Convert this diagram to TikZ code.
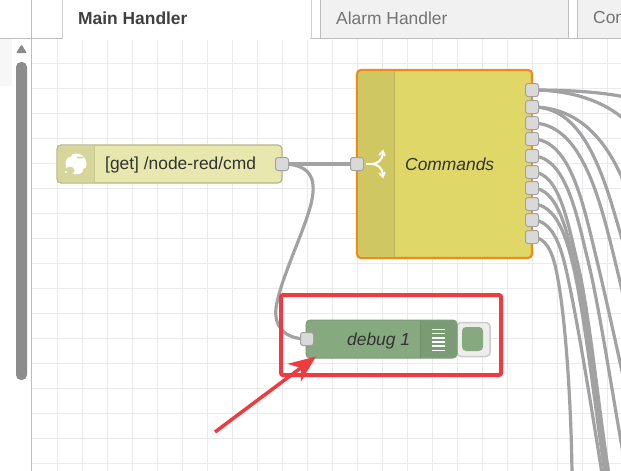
\documentclass[tikz,border=0pt]{standalone}
\usepackage{fontspec}
\setmainfont{Liberation Sans}
\usetikzlibrary{arrows.meta,backgrounds}
\definecolor{gridgrey}{HTML}{E9E9EE}
\definecolor{tabgrey}{HTML}{F1F1F1}
\definecolor{tabline}{HTML}{BDBDBD}
\definecolor{wiregrey}{HTML}{A2A2A2}
\definecolor{portgrey}{HTML}{D9D9D9}
\definecolor{getbody}{HTML}{E7E7AE}
\definecolor{getband}{HTML}{D6D69C}
\definecolor{cmdbody}{HTML}{DFD767}
\definecolor{cmdband}{HTML}{CFC862}
\definecolor{cmdline}{HTML}{F08A1C}
\definecolor{dbgbody}{HTML}{87A980}
\definecolor{dbgband}{HTML}{7A9B73}
\definecolor{markred}{HTML}{EE3B3F}
\tikzset{
	flowbox/.style={draw=#1, rounded corners=4pt, inner sep=0pt, outer sep=0pt},
	portbox/.style={draw=wiregrey, fill=portgrey, line width=1pt, rounded corners=2.5pt, minimum size=13pt, inner sep=0pt, outer sep=0pt},
	tabbox/.style={draw=tabline, fill=tabgrey, line width=1pt, minimum height=39pt, inner sep=0pt, outer sep=0pt},
	tabtext/.style={right, inner sep=0pt, font=\fontsize{17.4}{20}\selectfont},
	flowtext/.style={right, inner sep=0pt, text=black!80, font=\fontsize{17.4}{20}\selectfont},
	gridline/.style={draw=gridgrey, line width=1pt},
	wire/.style={draw=wiregrey, line width=3.2pt},
	iconline/.style={draw=white, line width=2pt}
}
\begin{document}
\begin{tikzpicture}[x=1pt,y=-1pt]
	\useasboundingbox (0,0) rectangle (621,471);
	\clip (0,0) rectangle (621,471);
	% canvas grid
	\begin{pgfonlayer}{background}
	\fill[white] (0,0) rectangle (621,471);
	\foreach \x in {57,82,...,607} \draw[gridline] (\x,38)--(\x,471);
	\foreach \y in {63,88,...,463} \draw[gridline] (32,\y)--(621,\y);
	\end{pgfonlayer}
	% tabs
	\fill[tabgrey!60] (0,38) rectangle (12,86);
	\draw[tabline, line width=1pt] (31.5,0)--(31.5,471);
	\draw[tabline, line width=1pt] (0,38)--(621,38);
	\node[tabbox, minimum width=249pt, fill=white, draw=tabline!70, at={(186.5,19)}] (maintab) {};
	\fill[white] (63,36) rectangle (310,40);
	\node[tabbox, minimum width=248pt, at={(444.5,19)}] (alarmtab) {};
	\node[tabbox, minimum width=100pt, at={(627,19)}] (thirdtab) {};
	\node[tabtext, at={(78,18)}, text=black!75, font=\fontsize{17.4}{20}\selectfont\bfseries] (mainlabel) {Main Handler};
	\node[tabtext, at={(336,18)}, text=black!55] (alarmlabel) {Alarm Handler};
	\node[tabtext, at={(593,18)}, text=black!55] (thirdlabel) {Con};
	% scrollbar
	\fill[black!45, rounded corners=1pt] (21.5,44.5)--(27,53)--(16,53)--cycle;
	\fill[black!45, rounded corners=5pt] (16,62) rectangle (27,380);
	% get node
	\node[flowbox=getband!85!black, fill=getbody, line width=1.2pt, minimum width=225pt, minimum height=38pt, at={(169.5,164)}] (get) {};
	\fill[getband] (94,145.7) [rounded corners=4pt] -- (57.7,145.7) -- (57.7,182.3) [sharp corners] -- (94,182.3) -- cycle;
	\draw[getband!92!black] (94,146)--(94,182);
	\fill[white] (76,164) circle (10.5pt);
	\fill[getband] (68,155) ellipse (4pt and 2.5pt);
	\fill[getband] (70,170.5) ellipse (4.5pt and 4pt);
	\fill[getband] (80,157.5) ellipse (3.5pt and 1pt);
	\fill[getband] (85,172) ellipse (2.5pt and 4pt);
	\fill[white] (66,172) circle (1.2pt);
	\node[flowtext, at={(105,165)}] (getlabel) {[get] /node-red/cmd};
	\node[portbox, at={(282,164)}] (getout) {};
	% switch node
	\node[flowbox=cmdline, fill=cmdbody, line width=2.2pt, minimum width=175pt, minimum height=188pt, at={(444.5,164)}] (commands) {};
	\fill[cmdband] (394,71.1) [rounded corners=4pt] -- (358.1,71.1) -- (358.1,256.9) [sharp corners] -- (394,256.9) -- cycle;
	\draw[cmdband!92!black] (394,71)--(394,257);
	\draw[iconline] (366,164)--(372,164);
	\draw[iconline] (372,164) .. controls (377,164) and (383,160) .. (383,153);
	\draw[iconline] (372,164) .. controls (377,164) and (383,168) .. (383,175);
	\draw[iconline, line width=1.6pt] (379,155)--(383,151)--(385,156);
	\draw[iconline, line width=1.6pt] (379,173)--(383,177)--(385,172);
	\node[flowtext, at={(405,164)}, font=\fontsize{17.4}{20}\selectfont\itshape] (cmdlabel) {Commands};
	\node[portbox, at={(357,164)}] (cmdin) {};
	\foreach \n/\y in {1/90,2/107,3/123,4/139,5/156,6/172,7/188,8/204,9/220,10/237}
		\node[portbox, at={(532,\y)}] (out\n) {};
	% debug node
	\node[draw=black!20, fill=black!7, line width=1.5pt, rounded corners=4pt, minimum width=33pt, minimum height=34pt, inner sep=0pt, at={(473.5,339.5)}] (dbgbutton) {};
	\node[fill=dbgbody, rounded corners=4pt, minimum width=21pt, minimum height=24pt, inner sep=0pt, at={(472.5,339)}] (dbgflag) {};
	\node[flowbox=dbgband, fill=dbgbody, line width=1pt, minimum width=151pt, minimum height=38pt, at={(381.5,339)}] (dbg) {};
	\fill[dbgband] (420,320.5) [rounded corners=4pt] -- (456.5,320.5) -- (456.5,357.5) [sharp corners] -- (420,357.5) -- cycle;
	\draw[dbgband!92!black] (420,320.5)--(420,357.5);
	\foreach \y in {329.3,333.5,337.7,341.9,346.1,350.3} \draw[draw=white, line width=1.6pt] (432,\y)--(445,\y);
	\node[flowtext, at={(347,340.5)}, font=\fontsize{17.4}{20}\selectfont\itshape] (dbglabel) {debug 1};
	\node[portbox, at={(307,339)}] (dbgin) {};
	% wires
	\begin{pgfonlayer}{background}
	\draw[wire] (getout.center)--(cmdin.center);
	\draw[wire] (getout.center) .. controls (308,164) and (318,176) .. (311,204) .. controls (304,232) and (280,280) .. (276,308) .. controls (274,326) and (284,339) .. (dbgin.center);
	\draw[wire] (out1.center) .. controls (570,90) and (600,92) .. (625,97);
	\draw[wire] (out1.center) .. controls (565,90) and (600,98) .. (625,120);
	\draw[wire] (out2.center) .. controls (575,107) and (605,135) .. (625,185);
	\draw[wire] (out2.center) .. controls (570,107) and (592,140) .. (612,205) -- (640,300);
	\foreach \n/\ya/\xm/\xe/\xc in {3/123/616/665/655,4/139/598/645/635,5/156/589/628/618,6/172/578/610/601,7/188/575/608/599,8/204/573/606/598,9/220/565/603/595,10/237/555/572/572}
		\draw[wire] (out\n.center) .. controls ({532+0.6*(\xm-532)},\ya) and ({\xm-0.11*(265-\ya)},{\ya+0.55*(265-\ya)}) .. (\xm,265) .. controls ({\xm+12},315) and (\xc,430) .. (\xe,480);
	\end{pgfonlayer}
	% red marking
	\draw[markred, line width=4pt, rounded corners=2pt] (281,295) rectangle (501,375);
	\coordinate (arrowtail) at (215,432);
	\coordinate (arrowtip) at (316,356.5);
	\draw[markred, line width=3.5pt, -{Stealth[length=27pt,width=22pt,inset=8pt]}] (arrowtail)--(arrowtip);
\end{tikzpicture}
\end{document}
